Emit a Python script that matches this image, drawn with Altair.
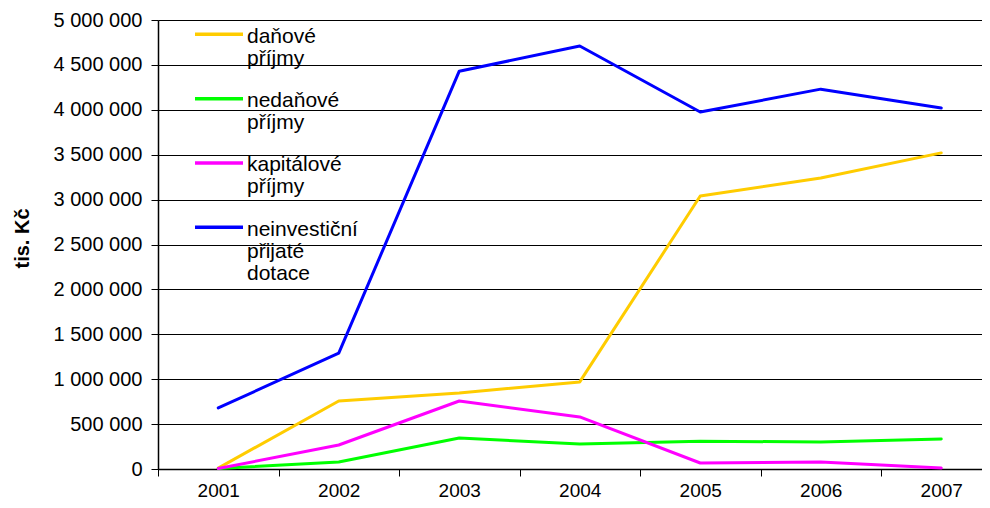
import altair as alt
import pandas as pd

years = [2001, 2002, 2003, 2004, 2005, 2006, 2007]
series = ["daňové příjmy", "nedaňové příjmy", "kapitálové příjmy", "neinvestiční přijaté dotace"]
legend_labels = ["daňové\npříjmy", "nedaňové\npříjmy", "kapitálové\npříjmy", "neinvestiční\npřijaté\ndotace"]
colors = ["#FFCC00", "#00FF00", "#FF00FF", "#0000FF"]

danove = [10000, 757000, 846000, 970000, 3040000, 3240000, 3520000]
nedanove = [5000, 78000, 345000, 278000, 310000, 300000, 334000]
kapitalove = [5000, 267000, 757000, 580000, 67000, 78000, 10000]
dotace = [680000, 1290000, 4430000, 4710000, 3975000, 4230000, 4020000]

y_ticks = [0, 500000, 1000000, 1500000, 2000000, 2500000, 3000000, 3500000, 4000000, 4500000, 5000000]
x_bounds = [2000.5, 2001.5, 2002.5, 2003.5, 2004.5, 2005.5, 2006.5]

values_all = [danove, nedanove, kapitalove, dotace]
df = pd.DataFrame({
    "rok": years * len(series),
    "hodnota": [v for vals in values_all for v in vals],
    "serie": [s for s in series for _ in years],
})
leg_df = pd.DataFrame({"serie": series, "popis": legend_labels, "idx": list(range(len(series)))})

FONT = "Liberation Sans"
W, H = 824, 449
band = 120.5
SEP = "\u00a0"

color_scale = alt.Scale(domain=series, range=colors)
xscale = alt.Scale(domain=[2000.5, 2000.5 + W / band], nice=False, zero=False)

lines = alt.Chart(df).mark_line(strokeWidth=3, strokeCap="round", strokeJoin="round").encode(
    x=alt.X("rok:Q", scale=xscale,
            axis=alt.Axis(values=x_bounds + years, title=None, grid=False,
                          labelExpr="datum.value % 1 == 0 ? '' + datum.value : ''",
                          labelOverlap=False, labelBound=False, labelFlush=False,
                          tickOpacity={"condition": {"test": "datum.value % 1 == 0", "value": 0}, "value": 1},
                          tickSize=7, labelPadding=5, domainWidth=1.5, labelFontSize=19)),
    y=alt.Y("hodnota:Q", scale=alt.Scale(domain=[0, 5000000], nice=False),
            axis=alt.Axis(values=y_ticks, title="tis. Kč",
                          labelExpr="replace(format(datum.value, ','), regexp(',', 'g'), '" + SEP + "')",
                          tickSize=7, labelPadding=9, domainWidth=1.5, labelFontSize=20,
                          titleX=-136, titleY=218, titleAlign="center", titleBaseline="middle",
                          titleAngle=-90)),
    color=alt.Color("serie:N", scale=color_scale, legend=None),
    order=alt.Order("rok:Q"),
)

leg_y = alt.Y("idx:Q", scale=alt.Scale(domain=[0, 3], range=[14.3, 207.3]), axis=None)
leg_rules = alt.Chart(leg_df).mark_rule(strokeWidth=3.5).encode(
    x=alt.value(37), x2=alt.value(85), y=leg_y,
    color=alt.Color("serie:N", scale=color_scale, legend=None),
)
leg_text = alt.Chart(leg_df).mark_text(align="left", baseline="alphabetic", dy=8.5, lineBreak="\n",
                                       lineHeight=22, fontSize=21, font=FONT, color="black").encode(
    x=alt.value(89), y=leg_y, text="popis:N",
)

chart = alt.layer(lines, leg_rules, leg_text).resolve_scale(y="independent").properties(
    width=W, height=H,
    padding={"left": 150, "top": 12, "right": 0, "bottom": 31},
    autosize=alt.AutoSizeParams(type="none"),
).configure_view(stroke=None).configure_axis(
    labelFont=FONT, labelColor="black",
    titleFont=FONT, titleFontSize=20, titleFontWeight="bold", titleColor="black",
    tickColor="black", domainColor="black", gridColor="black", gridWidth=1, gridOpacity=1,
)

chart.save("out.html", embed_options={"renderer": "svg", "actions": False})
